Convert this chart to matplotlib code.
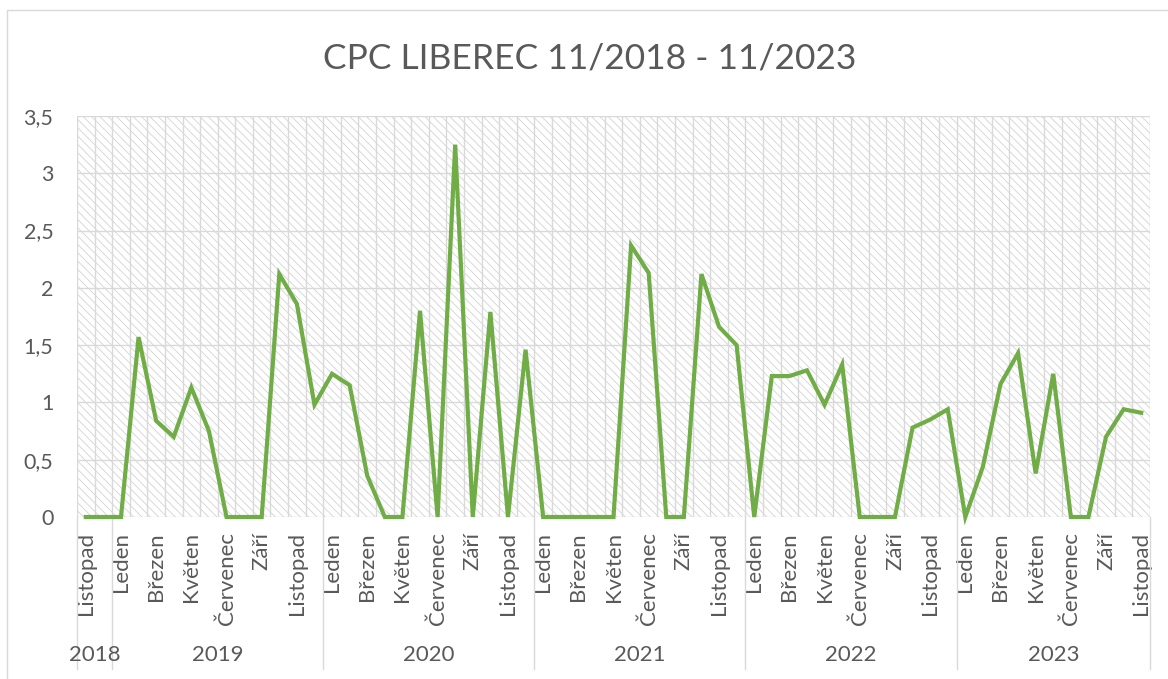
import matplotlib.pyplot as plt
import matplotlib.transforms as mtransforms
from matplotlib.patches import Rectangle

plt.rcParams['font.family'] = ['Lato', 'DejaVu Sans']
plt.rcParams['hatch.linewidth'] = 0.6

# CPC values, monthly 11/2018 .. 11/2023
cpc = [0, 0,
       0, 1.57, 0.84, 0.70, 1.13, 0.75, 0, 0, 0, 2.12, 1.86, 0.98,
       1.25, 1.15, 0.36, 0, 0, 1.80, 0, 3.25, 0, 1.79, 0, 1.46,
       0, 0, 0, 0, 0, 2.37, 2.13, 0, 0, 2.12, 1.66, 1.50,
       0, 1.23, 1.23, 1.28, 0.98, 1.33, 0, 0, 0, 0.78, 0.85, 0.94,
       0, 0.44, 1.16, 1.43, 0.38, 1.25, 0, 0, 0.70, 0.94, 0.91]
months = ['Leden', 'Únor', 'Březen', 'Duben', 'Květen', 'Červen',
          'Červenec', 'Srpen', 'Září', 'Říjen', 'Listopad', 'Prosinec']
years = [2018, 2019, 2020, 2021, 2022, 2023]
first_month = 10  # listopad 2018

W, H = 1168, 679
fig = plt.figure(figsize=(W / 100, H / 100), dpi=100)
fig.patch.set_facecolor('white')
fig.patches.append(Rectangle((7 / W, -0.05), 1.1, 1 - 10 / H + 0.05,
                             transform=fig.transFigure, fill=False,
                             edgecolor='#d9d9d9', lw=1))

L, R, T, B = 77, 1150, 116, 517
ax = fig.add_axes([L / W, 1 - B / H, (R - L) / W, (B - T) / H])
n = len(cpc)
x = list(range(n))

ax.add_patch(Rectangle((0, 0), 1, 1, transform=ax.transAxes, facecolor='white',
                       edgecolor='#d2d2d2', lw=0, hatch='\\\\\\\\', zorder=0))

ax.set_xlim(-0.5, n - 0.5)
ax.set_ylim(0, 3.5)

gc = '#d9d9d9'
for k in range(8):
    ax.axhline(k * 0.5, color=gc, lw=1, zorder=1)
for k in range(n + 1):
    ax.axvline(k - 0.5, color=gc, lw=1, zorder=1)

ax.plot(x, cpc, color='#70AD47', lw=3, zorder=3, solid_joinstyle='miter', clip_on=False)

for s in ax.spines.values():
    s.set_visible(False)

ax.set_yticks([k * 0.5 for k in range(8)])
ax.set_yticklabels([('%g' % (k * 0.5)).replace('.', ',') for k in range(8)])
ax.tick_params(axis='y', length=0, pad=17, labelsize=15.5, labelcolor='#595959')

# month labels every second month
ticks = [i for i in range(n) if i % 2 == 0]
ax.set_xticks(ticks)
ax.set_xticklabels([months[(first_month + i) % 12] for i in ticks], rotation=90)
ax.tick_params(axis='x', length=0, pad=11, labelsize=16, labelcolor='#595959')

# year groups
trans = mtransforms.blended_transform_factory(ax.transData, ax.transAxes)
year_idx = [(first_month + i) // 12 for i in range(n)]
bounds = [-0.5]
for i in range(1, n):
    if year_idx[i] != year_idx[i - 1]:
        bounds.append(i - 0.5)
bounds.append(n - 0.5)
for b in bounds:
    ax.plot([b, b], [0, -0.38], color=gc, lw=1, transform=trans, clip_on=False)
for k, yr in enumerate(years):
    cx = (bounds[k] + bounds[k + 1]) / 2
    ax.text(cx, -0.345, str(yr), transform=trans, ha='center', va='center',
            fontsize=16, color='#595959')

fig.text(590 / W, 1 - 58 / H, 'CPC LIBEREC 11/2018 - 11/2023', ha='center', va='center',
         fontsize=25.5, color='#595959')

fig.savefig('out.png', dpi=100)
